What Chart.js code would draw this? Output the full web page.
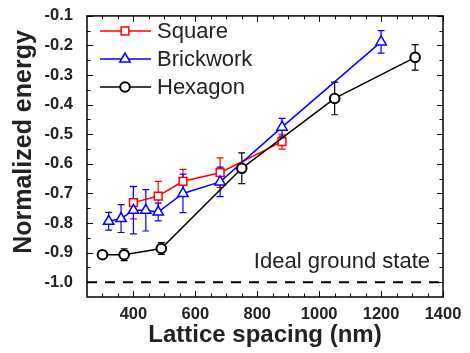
<!DOCTYPE html>
<html>
<head>
<meta charset="utf-8">
<script src="https://cdn.jsdelivr.net/npm/chart.js@4/dist/chart.umd.min.js"></script>
<style>
html,body{margin:0;padding:0;background:#fff;}
#wrap{width:470px;height:353px;}
</style>
</head>
<body>
<div id="wrap"><canvas id="c" width="470" height="353"></canvas></div>
<script>
// ---- data ----
const seriesNames = ["Square", "Brickwork", "Hexagon"];

const squareX   = [400, 480, 560, 680, 880];
const squareY   = [-0.731, -0.709, -0.659, -0.630, -0.525];
const squareErr = [0.055, 0.05, 0.04, 0.05, 0.025];

const brickX   = [320, 360, 400, 440, 480, 560, 680, 880, 1200];
const brickY   = [-0.794, -0.785, -0.757, -0.757, -0.763, -0.700, -0.661, -0.476, -0.188];
const brickErr = [0.03, 0.047, 0.08, 0.07, 0.03, 0.065, 0.05, 0.03, 0.038];

const hexX   = [300, 370, 490, 750, 1050, 1310];
const hexY   = [-0.907, -0.907, -0.886, -0.615, -0.379, -0.240];
const hexErr = [0.01, 0.02, 0.02, 0.052, 0.055, 0.043];

const idealX = [250, 1400];
const idealY = [-1.0, -1.0];
const idealLabel = "Ideal ground state";

const xTickLabels = [400, 600, 800, 1000, 1200, 1400];
const yTickLabels = [-1.0, -0.9, -0.8, -0.7, -0.6, -0.5, -0.4, -0.3, -0.2, -0.1];
const xTitle = "Lattice spacing (nm)";
const yTitle = "Normalized energy";

// ---- build ----
const pts = (xs, ys) => xs.map((x, i) => ({x: x, y: ys[i]}));
const FONT = "Arial, 'Liberation Sans', sans-serif";

const styles = [
  {color: '#ff0000', pointStyle: 'rect', radius: 5.5, bw: 1.5},
  {color: '#0000ff', pointStyle: 'triangle', radius: 6, bw: 1.5},
  {color: '#000000', pointStyle: 'circle', radius: 4.8, bw: 2}
];
const errs = [squareErr, brickErr, hexErr];

function mk(i, xs, ys) {
  const s = styles[i];
  return {
    label: seriesNames[i],
    data: pts(xs, ys),
    showLine: true,
    borderColor: s.color,
    borderWidth: 1.5,
    backgroundColor: '#ffffff',
    pointStyle: s.pointStyle,
    pointRadius: s.radius,
    pointBorderWidth: s.bw,
    pointBorderColor: s.color,
    pointBackgroundColor: '#ffffff',
    order: 3 - i
  };
}

const datasets = [
  mk(0, squareX, squareY),
  mk(1, brickX, brickY),
  mk(2, hexX, hexY),
  {
    label: idealLabel,
    data: pts(idealX, idealY),
    showLine: true,
    borderColor: '#000',
    borderWidth: 2,
    borderDash: [10, 8],
    pointRadius: 0,
    order: 10
  }
];

const errorBars = {
  id: 'errorBars',
  beforeDatasetsDraw(chart) {
    const ctx = chart.ctx, xs = chart.scales.x, ys = chart.scales.y;
    ctx.save();
    for (let d = 0; d < 3; d++) {
      const ds = chart.data.datasets[d];
      ctx.strokeStyle = styles[d].color;
      ctx.lineWidth = 1.2;
      ds.data.forEach((p, i) => {
        const e = errs[d][i];
        const px = xs.getPixelForValue(p.x);
        const y1 = ys.getPixelForValue(p.y + e);
        const y2 = ys.getPixelForValue(p.y - e);
        ctx.beginPath();
        ctx.moveTo(px, y1); ctx.lineTo(px, y2);
        ctx.moveTo(px - 3.5, y1); ctx.lineTo(px + 3.5, y1);
        ctx.moveTo(px - 3.5, y2); ctx.lineTo(px + 3.5, y2);
        ctx.stroke();
      });
    }
    ctx.restore();
  }
};

const frame = {
  id: 'frame',
  afterDraw(chart) {
    const ctx = chart.ctx, a = chart.chartArea, xs = chart.scales.x, ys = chart.scales.y;
    ctx.save();
    ctx.strokeStyle = '#000';
    ctx.lineWidth = 1.5;
    ctx.strokeRect(a.left, a.top, a.right - a.left, a.bottom - a.top);
    ctx.lineWidth = 1;
    ctx.beginPath();
    // x ticks (inward, bottom and top)
    for (let v = 300; v <= 1400; v += 50) {
      const major = xTickLabels.indexOf(v) >= 0;
      const L = major ? 6 : 3.5;
      const px = Math.round(xs.getPixelForValue(v)) + 0.5;
      ctx.moveTo(px, a.bottom); ctx.lineTo(px, a.bottom - L);
      ctx.moveTo(px, a.top); ctx.lineTo(px, a.top + L);
    }
    // y ticks (inward, left and right)
    for (let k = -20; k <= -2; k++) {
      const v = k / 20;
      const major = (k % 2 === 0);
      const L = major ? 6 : 3.5;
      const py = Math.round(ys.getPixelForValue(v)) + 0.5;
      ctx.moveTo(a.left, py); ctx.lineTo(a.left + L, py);
      ctx.moveTo(a.right, py); ctx.lineTo(a.right - L, py);
    }
    ctx.stroke();

    // legend
    const ly = [31, 59, 87];
    for (let i = 0; i < 3; i++) {
      const s = styles[i];
      ctx.strokeStyle = s.color;
      ctx.lineWidth = 1.5;
      ctx.beginPath();
      ctx.moveTo(100, ly[i]); ctx.lineTo(151, ly[i]);
      ctx.stroke();
      ctx.fillStyle = '#fff';
      ctx.lineWidth = s.bw;
      Chart.helpers.drawPoint(ctx, {pointStyle: s.pointStyle, radius: s.radius, borderWidth: s.bw, rotation: 0}, 125, ly[i]);
      ctx.fillStyle = '#222';
      ctx.font = '22px ' + FONT;
      ctx.textAlign = 'left';
      ctx.textBaseline = 'middle';
      ctx.fillText(seriesNames[i], 157, ly[i] + 1);
    }

    // annotation
    ctx.fillStyle = '#222';
    ctx.font = '22px ' + FONT;
    ctx.textAlign = 'right';
    ctx.textBaseline = 'alphabetic';
    ctx.fillText(idealLabel, 430, 268);

    // y title
    ctx.save();
    ctx.translate(24, 142);
    ctx.rotate(-Math.PI / 2);
    ctx.font = 'bold 25px ' + FONT;
    ctx.textAlign = 'center';
    ctx.textBaseline = 'middle';
    ctx.fillStyle = '#222';
    ctx.fillText(yTitle, 0, 0);
    ctx.restore();

    ctx.restore();
  }
};

new Chart(document.getElementById('c'), {
  type: 'scatter',
  data: {datasets: datasets},
  options: {
    responsive: false,
    animation: false,
    devicePixelRatio: 1,
    layout: {padding: {top: 11, right: 27, left: 0, bottom: 0}},
    plugins: {legend: {display: false}, tooltip: {enabled: false}},
    scales: {
      x: {
        type: 'linear', min: 250, max: 1400,
        grid: {display: false},
        border: {display: false},
        afterBuildTicks: s => { s.ticks = xTickLabels.map(v => ({value: v})); },
        afterFit: s => { s.height = 56; },
        ticks: {color: '#222', font: {family: FONT, size: 16.5, weight: 'bold'}, padding: 0, maxRotation: 0, autoSkip: false,
          callback: v => String(v)},
        title: {display: true, text: xTitle, color: '#222', font: {family: FONT, size: 24, weight: 'bold'}, padding: {top: 3, bottom: 3}}
      },
      y: {
        type: 'linear', min: -1.05, max: -0.1,
        grid: {display: false},
        border: {display: false},
        afterBuildTicks: s => { s.ticks = yTickLabels.map(v => ({value: v})); },
        afterFit: s => { s.width = 87; },
        ticks: {color: '#222', font: {family: FONT, size: 16.5, weight: 'bold'}, padding: 6, autoSkip: false,
          callback: v => Number(v).toFixed(1)}
      }
    }
  },
  plugins: [errorBars, frame]
});
</script>
</body>
</html>
